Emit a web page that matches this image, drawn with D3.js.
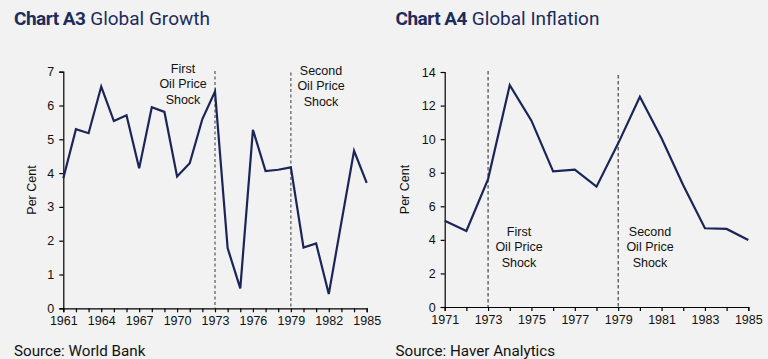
<!DOCTYPE html>
<html><head><meta charset="utf-8">
<script src="https://cdn.jsdelivr.net/npm/d3@7"></script>
<style>
html,body{margin:0;padding:0;background:#f2f2f2;}
svg{display:block;}
</style></head>
<body>
<svg id="c" width="768" height="359"></svg>
<script>
// ---- Data ----
const growthYears = d3.range(1961, 1986);
const growthValues = [3.85, 5.3, 5.18, 6.56, 5.54, 5.71, 4.14, 5.95, 5.81, 3.9, 4.29, 5.6, 6.41,
  1.78, 0.59, 5.28, 4.06, 4.1, 4.17, 1.8, 1.92, 0.42, 2.55, 4.66, 3.71];
const growthTickLabels = [1961, 1964, 1967, 1970, 1973, 1976, 1979, 1982, 1985];
const growthYTicks = [0, 1, 2, 3, 4, 5, 6, 7];

const inflationYears = d3.range(1971, 1986);
const inflationValues = [5.14, 4.53, 7.62, 13.22, 11.1, 8.08, 8.18, 7.17, 9.75, 12.53, 10.05, 7.25, 4.69, 4.65, 3.99];
const inflationTickLabels = [1971, 1973, 1975, 1977, 1979, 1981, 1983, 1985];
const inflationYTicks = [0, 2, 4, 6, 8, 10, 12, 14];

const shockYears = [1973, 1979];
const shockLabels = [["First", "Oil Price", "Shock"], ["Second", "Oil Price", "Shock"]];

const NAVY = "#1b2558";
const TITLE = "#1c2c5e";
const svg = d3.select("#c");
svg.append("rect").attr("width", 768).attr("height", 359).attr("fill", "#f2f2f2");

function chart(cfg) {
  const g = svg.append("g");
  const x = d3.scaleLinear().domain(cfg.xDomain).range([cfg.x0, cfg.x1]);
  const y = d3.scaleLinear().domain(cfg.yDomain).range([cfg.yBottom, cfg.yTop]);

  // title
  const t = g.append("text").attr("x", cfg.titleX).attr("y", 25)
    .attr("font-family", "Roboto").attr("font-size", 19).attr("fill", TITLE);
  t.append("tspan").attr("font-weight", "bold").attr("letter-spacing", -0.5).text(cfg.titleBold);
  t.append("tspan").text(" " + cfg.titleRest);

  // source
  g.append("text").attr("x", cfg.titleX).attr("y", 356)
    .attr("font-family", "Roboto").attr("font-size", 15.2).attr("fill", "#111").text(cfg.source);

  // y axis
  const ya = g.append("g").attr("transform", `translate(${cfg.x0},0)`)
    .call(d3.axisLeft(y).tickValues(cfg.yTicks).tickSize(4).tickPadding(5).tickFormat(d3.format("d")));
  // x axis
  const xa = g.append("g").attr("transform", `translate(0,${cfg.yBottom})`)
    .call(d3.axisBottom(x).tickValues(cfg.allYears).tickSize(4).tickPadding(4)
      .tickFormat(d => cfg.xLabels.includes(d) ? String(d) : ""));
  [ya, xa].forEach(a => {
    a.select(".domain").attr("stroke", "#000").attr("stroke-width", 1.2);
    a.selectAll(".tick line").attr("stroke", "#000").attr("stroke-width", 1.2);
    a.selectAll("text").attr("font-family", "Liberation Sans, Arial").attr("font-size", 12.5).attr("fill", "#111");
  });

  // axis title
  g.append("text").attr("transform", `translate(${cfg.yTitleX},${(cfg.yTop + cfg.yBottom) / 2}) rotate(-90)`)
    .attr("text-anchor", "middle").attr("font-family", "Liberation Sans, Arial")
    .attr("font-size", 12.5).attr("fill", "#111").text("Per Cent");

  // shock lines
  shockYears.forEach((yr, i) => {
    g.append("line").attr("x1", x(yr)).attr("x2", x(yr))
      .attr("y1", cfg.dashTop[i]).attr("y2", cfg.yBottom)
      .attr("stroke", cfg.dashColor).attr("stroke-width", cfg.dashWidth)
      .attr("stroke-dasharray", cfg.dashArray);
    const lab = g.append("text").attr("text-anchor", "middle")
      .attr("font-family", "Liberation Sans, Arial").attr("font-size", 12.5).attr("fill", "#111");
    shockLabels[i].forEach((s, j) => {
      lab.append("tspan").attr("x", cfg.labelPos[i][0]).attr("y", cfg.labelPos[i][1] + j * 15.3).text(s);
    });
  });

  // line
  const line = d3.line().x((d, i) => x(cfg.years[i])).y(d => y(d));
  g.append("path").datum(cfg.values).attr("d", line)
    .attr("fill", "none").attr("stroke", NAVY).attr("stroke-width", 2.2).attr("stroke-linejoin", "miter");
}

chart({
  xDomain: [1961, 1985], yDomain: [0, 7], x0: 63.3, x1: 366.7, yTop: 71.7, yBottom: 308.3,
  titleX: 14, titleBold: "Chart A3", titleRest: "Global Growth", source: "Source: World Bank",
  yTicks: growthYTicks, allYears: growthYears, xLabels: growthTickLabels, yTitleX: 36,
  years: growthYears, values: growthValues,
  dashTop: [71, 72.5], dashColor: "#6e6e6e", dashWidth: 1.4, dashArray: "3,2.5",
  labelPos: [[183, 73], [321, 75]]
});

chart({
  xDomain: [1971, 1985], yDomain: [0, 14], x0: 444.7, x1: 748.3, yTop: 72, yBottom: 307,
  titleX: 395.5, titleBold: "Chart A4", titleRest: "Global Inflation", source: "Source: Haver Analytics",
  yTicks: inflationYTicks, allYears: inflationYears, xLabels: inflationTickLabels, yTitleX: 409,
  years: inflationYears, values: inflationValues,
  dashTop: [71, 75], dashColor: "#222", dashWidth: 1, dashArray: "3.5,2.5",
  labelPos: [[519, 236], [650, 236]]
});
</script>
</body></html>
